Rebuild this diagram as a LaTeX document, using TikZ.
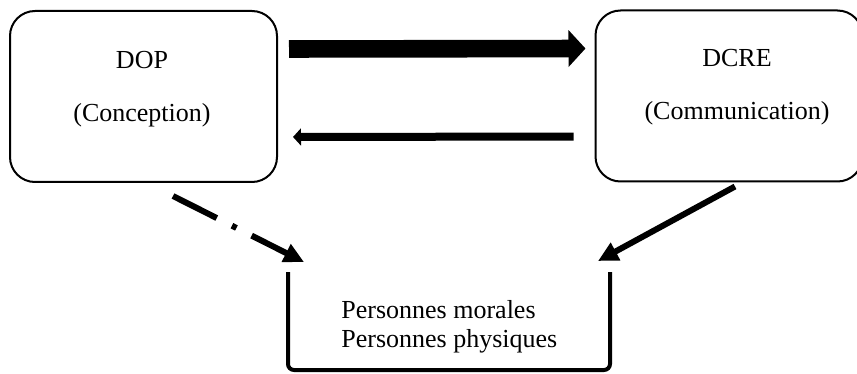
\documentclass[tikz,border=0pt]{standalone}
\usepackage{fontspec}
\setmainfont{Liberation Serif}
\usetikzlibrary{arrows.meta}

\begin{document}
\begin{tikzpicture}[x=0.5pt,y=-0.5pt,
    service/.style ={draw, line width=1pt, rounded corners=12.5pt,
       minimum width=133.5pt, minimum height=85.5pt, inner sep=0pt},
    caption/.style ={inner sep=0pt, font=\fontsize{13}{14.5}\selectfont},
    bigarrow/.style ={line width=8.8pt, -{Triangle[length=8.5pt,width=18pt]}},
    smallarrow/.style ={line width=4pt, -{Triangle[length=4pt,width=8.5pt]}},
    slantarrow/.style ={line width=3pt, -{Triangle[length=10pt,width=9.5pt]}}]
   \useasboundingbox (0,0) rectangle (857,374);

   \node[service] (dop)   at (143.5,96.5) {};
   \node[service] (dcre)  at (729,96)     {};

   \node[caption] (doptitle)   at ([xshift=-0.75pt,yshift=18.25pt]dop.center)  {DOP};
   \node[caption] (dopsub)     at ([xshift=-0.75pt,yshift=-9.5pt]dop.center)   {(Conception)};
   \node[caption] (dcretitle)  at ([xshift=4pt,yshift=18.75pt]dcre.center)     {DCRE};
   \node[caption] (dcresub)    at ([xshift=4pt,yshift=-8.75pt]dcre.center)     {(Communication)};

   \node[caption, align=left, anchor=west] (public) at (341,327)
      {Personnes morales\\Personnes physiques};

   % bracket round the public
   \draw[line width=2pt, rounded corners=3pt] (288,272) -- (288,370) -- (610,370) -- (610,272);
   \coordinate (tipl) at (304,262);
   \coordinate (tipr) at (598,261);

   \draw[bigarrow, shorten <=5.5pt, shorten >=4.5pt]
      ([yshift=23.75pt]dop.east) to ([yshift=23.75pt]dcre.west);
   \draw[smallarrow, shorten <=10.5pt, shorten >=7.5pt]
      ([yshift=-20.25pt]dcre.west) to ([yshift=-20.25pt]dop.east);
   \draw[slantarrow, dash pattern=on 24.5pt off 8.5pt on 2.5pt off 8.5pt]
      ([xshift=14.75pt,yshift=-6.5pt]dop.south) to (tipl);
   \draw[slantarrow] ([xshift=3pt,yshift=-2pt]dcre.south) to (tipr);
 \end{tikzpicture}
\end{document}
